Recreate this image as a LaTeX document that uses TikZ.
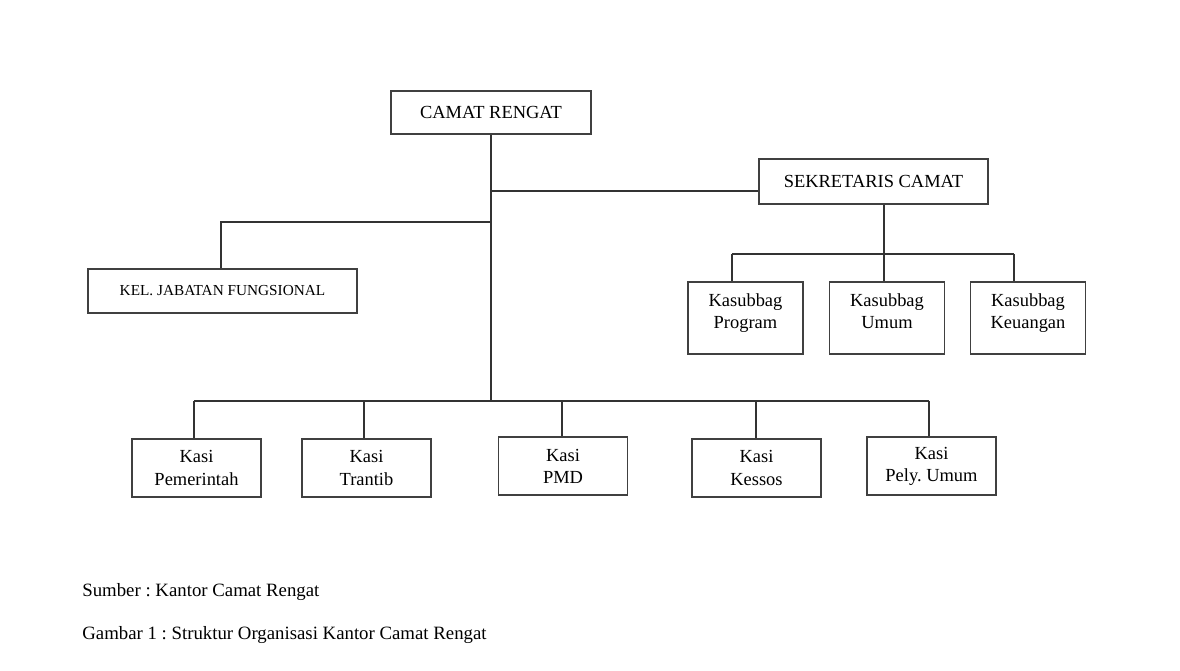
\documentclass[tikz,border=0pt]{standalone}
\usepackage{fontspec}
\setmainfont{Liberation Serif}
\usepackage{tikz}
\frenchspacing

\tikzset{
  kotak/.style={draw=black!75, line width=0.9pt, fill=white, inner sep=0pt, align=center,
    font=\fontsize{10.5}{12.6}\selectfont},
  kasubbag/.style={kotak, minimum width=2.3cm, minimum height=1.44cm, text depth=8pt},
  kasi/.style={kotak, minimum width=2.58cm, minimum height=1.16cm},
  garis/.style={draw=black!80, line width=0.9pt},
  catatan/.style={anchor=base west, inner sep=0pt, font=\fontsize{10.7}{12.8}\selectfont}
}

\begin{document}
\begin{tikzpicture}[x=0.02cm, y=-0.02cm]
\useasboundingbox (0,0) rectangle (1180,671);

\node[kotak, minimum width=4cm, minimum height=0.86cm] (camat) at (491,112.5) {CAMAT RENGAT};
\node[kotak, minimum width=4.58cm, minimum height=0.9cm] (sekcam) at (873.5,181.5) {SEKRETARIS CAMAT};
\node[kotak, minimum width=5.38cm, minimum height=0.88cm, font=\fontsize{8.7}{10}\selectfont] (kjf) at (222.5,291) {KEL. JABATAN FUNGSIONAL};

\node[kasubbag] (kprog) at (745.5,318) {Kasubbag\\Program};
\node[kasubbag] (kumum) at (887,318) {Kasubbag\\Umum};
\node[kasubbag] (kkeu) at (1028,318) {Kasubbag\\Keuangan};

\node[kasi] (kpem) at (196.5,468) {Kasi\\Pemerintah};
\node[kasi] (ktrantib) at (366.5,468) {Kasi\\Trantib};
\node[kasi] (kpmd) at (563,466) {Kasi\\PMD};
\node[kasi] (kkessos) at (756.5,468) {Kasi\\Kessos};
\node[kasi] (kpely) at (931.5,466) {Kasi\\Pely.\ Umum};

\coordinate (jsek) at (491,191);
\coordinate (jkjf) at (491,222);
\coordinate (jbawah) at (491,401);
\coordinate (jsub) at (884,254);

\draw[garis] (camat.south) -- (jbawah);
\draw[garis] (jsek) -- (jsek -| sekcam.west);
\draw[garis] (jkjf) -- (jkjf -| 221,0) -- (kjf.north -| 221,0);

\draw[garis] (jsub |- sekcam.south) -- (jsub |- kumum.north);
\draw[garis] (732,254) -- (1014,254);
\draw[garis, line width=1.5pt] (732,254) -- (732,254 |- kprog.north);
\draw[garis] (1014,254) -- (1014,254 |- kkeu.north);

\draw[garis] (194,401) -- (929,401);
\foreach \n/\x in {kpem/194, ktrantib/364, kpmd/562, kpely/929}
  \draw[garis] (\x,401) -- (\x,401 |- \n.north);
\draw[garis, line width=1.5pt] (756,401) -- (756,401 |- kkessos.north);

\node[catatan] (sumber) at (82,597) {Sumber : Kantor Camat Rengat};
\node[catatan] (gambar) at (82,640) {Gambar 1 : Struktur Organisasi Kantor Camat Rengat};
\end{tikzpicture}
\end{document}
